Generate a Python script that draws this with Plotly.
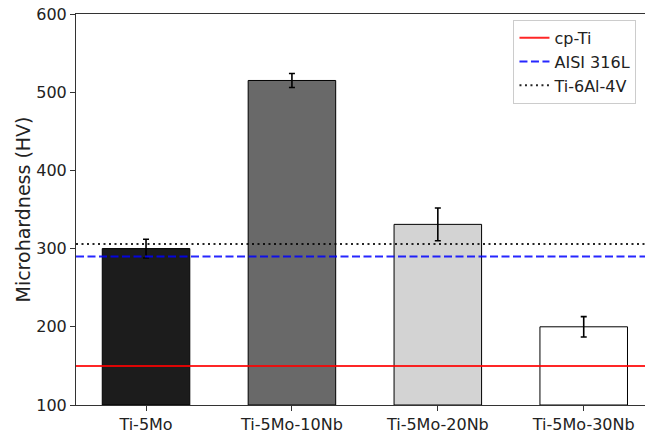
import plotly.graph_objects as go

categories = ["Ti-5Mo", "Ti-5Mo-10Nb", "Ti-5Mo-20Nb", "Ti-5Mo-30Nb"]
hardness = [300, 515, 331, 200]
hardness_err = [12, 9, 21, 13]
bar_colors = ["#1c1c1c", "#696969", "#d3d3d3", "#ffffff"]

ref_names = ["cp-Ti", "AISI 316L", "Ti-6Al-4V"]
ref_values = [150, 290, 306]
ref_colors = ["rgba(255,0,0,0.85)", "rgba(0,0,255,0.85)", "rgba(0,0,0,0.85)"]
ref_dash = ["solid", "8px,3.5px", "2px,3.5px"]

x_idx = list(range(len(categories)))
x_lo, x_hi = -0.48, 3.42

fig = go.Figure()
fig.add_trace(go.Bar(
    x=x_idx, y=[h - 100 for h in hardness], base=100,
    width=0.6,
    marker=dict(color=bar_colors, line=dict(color="black", width=1)),
    error_y=dict(type="data", array=hardness_err, color="black", thickness=1.6, width=3),
    showlegend=False,
))
for name, val, col, dash in zip(ref_names, ref_values, ref_colors, ref_dash):
    fig.add_trace(go.Scatter(
        x=[x_lo, x_hi], y=[val, val], mode="lines", name=name,
        line=dict(color=col, dash=dash, width=2),
    ))

font = "DejaVu Sans, Verdana, sans-serif"
fig.update_layout(
    width=645, height=434,
    margin=dict(l=76, r=0, t=14, b=26),
    plot_bgcolor="white", paper_bgcolor="white",
    font=dict(family=font, size=16, color="#222222"),
    xaxis=dict(
        range=[x_lo, x_hi], tickvals=x_idx, ticktext=categories,
        showline=True, linecolor="#333333", linewidth=1, mirror=True,
        ticks="outside", ticklen=5, tickcolor="#333333",
        showgrid=False, zeroline=False, tickfont=dict(size=16),
    ),
    yaxis=dict(
        range=[100, 600], tickvals=[100, 200, 300, 400, 500, 600],
        showline=True, linecolor="#333333", linewidth=1,
        ticks="outside", ticklen=5, tickcolor="#333333",
        showgrid=False, zeroline=False, tickfont=dict(size=16),
        title=dict(text="Microhardness (HV)", font=dict(size=19), standoff=0),
    ),
    legend=dict(
        x=0.985, y=0.985, xanchor="right", yanchor="top",
        bgcolor="white", bordercolor="#cccccc", borderwidth=1,
        font=dict(size=16), tracegroupgap=0,
    ),
    bargap=0.4,
)

fig.write_html("out.html")
